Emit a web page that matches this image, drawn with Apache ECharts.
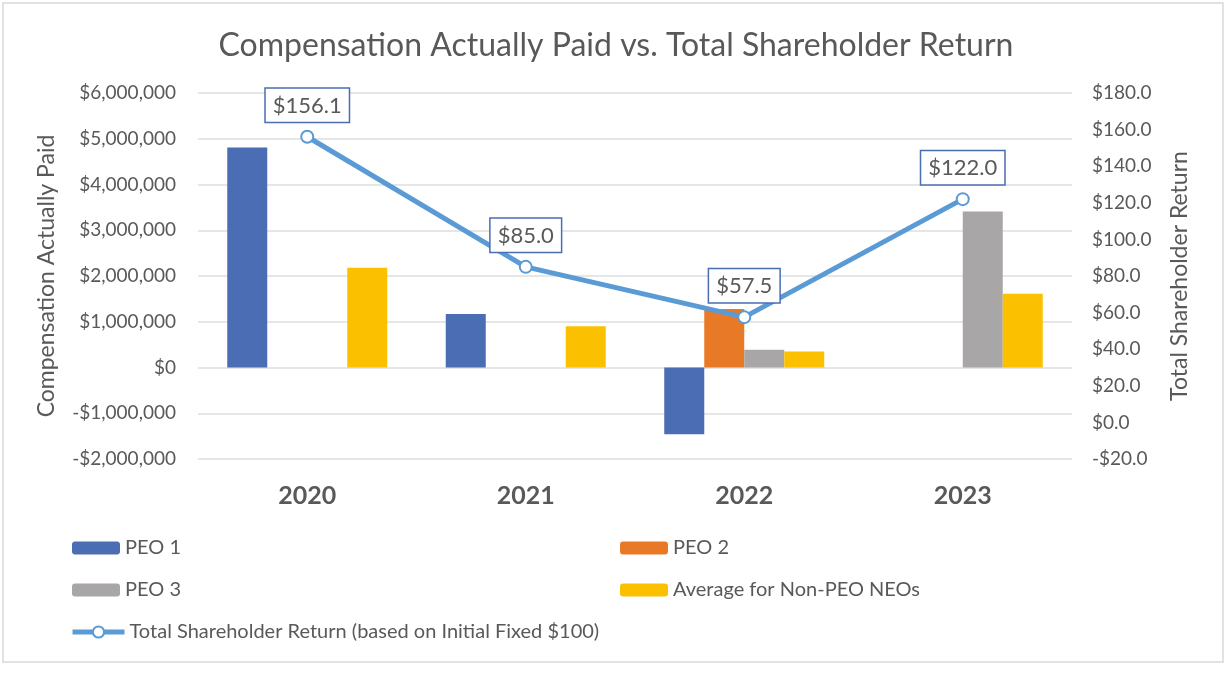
<!DOCTYPE html>
<html>
<head>
<meta charset="utf-8">
<script src="https://cdn.jsdelivr.net/npm/echarts@6/dist/echarts.min.js"></script>
<style>
html,body{margin:0;padding:0;background:#fff;}
#chart{width:1232px;height:674px;}
</style>
</head>
<body>
<div id="chart"></div>
<script>
const categories = ['2020', '2021', '2022', '2023'];
const peo1 = [4810000, 1170000, -1460000, null];
const peo2 = [null, null, 1280000, null];
const peo3 = [null, null, 390000, 3410000];
const avgNonPeo = [2180000, 900000, 350000, 1610000];
const tsr = [156.1, 85.0, 57.5, 122.0];
const leftTicks = { min: -2000000, max: 6000000, interval: 1000000 };
const rightTicks = { min: -20, max: 180, interval: 20 };

const FONT = 'Lato';
const TXT = '#595959';

function money(v) {
  const s = Math.abs(v).toLocaleString('en-US');
  return (v < 0 ? '-$' : '$') + s;
}
function money1(v) {
  return (v < 0 ? '-$' : '$') + Math.abs(v).toFixed(1);
}

const chart = echarts.init(document.getElementById('chart'));
const barBase = { type: 'bar', barWidth: 40, barGap: '0%', yAxisIndex: 0 };
const legendBase = {
  itemWidth: 48, itemHeight: 13, itemGap: 10,
  textStyle: { color: TXT, fontFamily: FONT, fontSize: 20 }
};

chart.setOption({
  backgroundColor: '#fff',
  animation: false,
  title: {
    text: 'Compensation Actually Paid vs. Total Shareholder Return',
    left: 'center', top: 25,
    textStyle: { color: TXT, fontFamily: FONT, fontSize: 32, fontWeight: 'normal' }
  },
  graphic: [{
    type: 'rect', silent: true,
    shape: { x: 3, y: 3, width: 1220, height: 659 },
    style: { fill: 'none', stroke: '#d9d9d9', lineWidth: 1.5 }
  }],
  grid: { left: 198, right: 160, top: 93, bottom: 215 },
  legend: [
    Object.assign({ data: ['PEO 1'], left: 67, top: 533 }, legendBase),
    Object.assign({ data: ['PEO 2'], left: 615, top: 533 }, legendBase),
    Object.assign({ data: ['PEO 3'], left: 67, top: 575 }, legendBase),
    Object.assign({ data: ['Average for Non-PEO NEOs'], left: 615, top: 575 }, legendBase),
    Object.assign({
      data: ['Total Shareholder Return (based on Initial Fixed $100)'], left: 65, top: 617,
      lineStyle: { width: 5 }, itemStyle: { borderWidth: 2 }
    }, legendBase, { itemWidth: 52, itemHeight: 14 })
  ],
  xAxis: {
    type: 'category', data: categories,
    axisLine: { show: false }, axisTick: { show: false },
    axisLabel: { color: TXT, fontFamily: FONT, fontSize: 25, fontWeight: 'bold', margin: 24 }
  },
  yAxis: [{
    type: 'value', min: leftTicks.min, max: leftTicks.max, interval: leftTicks.interval,
    name: 'Compensation Actually Paid', nameLocation: 'middle', nameRotate: 90, nameGap: 140,
    nameTextStyle: { color: TXT, fontFamily: FONT, fontSize: 23 },
    axisLine: { show: false }, axisTick: { show: false },
    axisLabel: { color: TXT, fontFamily: FONT, fontSize: 19, margin: 22, formatter: money },
    splitLine: { lineStyle: { color: '#dedede', width: 1.5 } }
  }, {
    type: 'value', min: rightTicks.min, max: rightTicks.max, interval: rightTicks.interval,
    position: 'right',
    name: 'Total Shareholder Return', nameLocation: 'middle', nameRotate: 90, nameGap: 96,
    nameTextStyle: { color: TXT, fontFamily: FONT, fontSize: 23 },
    axisLine: { show: false }, axisTick: { show: false },
    axisLabel: { color: TXT, fontFamily: FONT, fontSize: 19, margin: 20, formatter: money1 },
    splitLine: { show: false }
  }],
  series: [
    Object.assign({ name: 'PEO 1', data: peo1, itemStyle: { color: '#4A6DB4' } }, barBase),
    Object.assign({ name: 'PEO 2', data: peo2, itemStyle: { color: '#E87A27' } }, barBase),
    Object.assign({ name: 'PEO 3', data: peo3, itemStyle: { color: '#A8A6A6' } }, barBase),
    Object.assign({ name: 'Average for Non-PEO NEOs', data: avgNonPeo, itemStyle: { color: '#FBC000' } }, barBase),
    {
      name: 'Total Shareholder Return (based on Initial Fixed $100)',
      type: 'line', yAxisIndex: 1, data: tsr, z: 5,
      symbol: 'circle', symbolSize: 12,
      lineStyle: { color: '#5B9BD5', width: 5 },
      itemStyle: { color: '#fff', borderColor: '#5B9BD5', borderWidth: 2 },
      label: {
        show: true, position: 'top', distance: 8,
        formatter: p => money1(p.value),
        color: TXT, fontFamily: FONT, fontSize: 22,
        backgroundColor: '#fff', borderColor: '#4A6DB4', borderWidth: 1.5,
        padding: [6, 7, 5, 7]
      }
    }
  ]
});
</script>
</body>
</html>
